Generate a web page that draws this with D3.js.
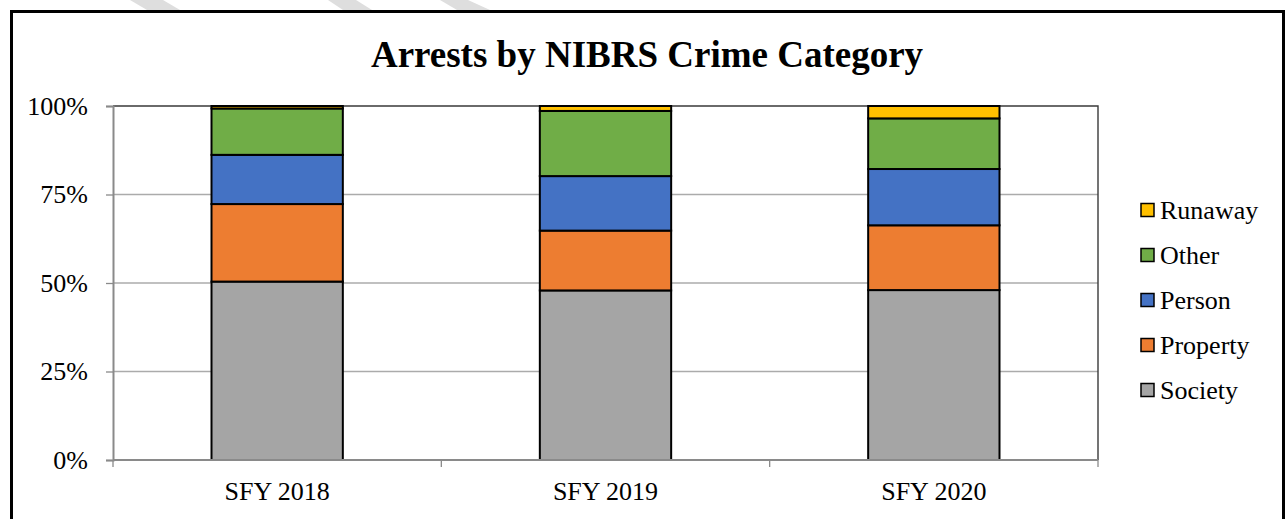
<!DOCTYPE html>
<html>
<head>
<meta charset="utf-8">
<script src="https://cdn.jsdelivr.net/npm/d3@7"></script>
<style>
  body { margin: 0; background: #fff; }
  text { font-family: "Liberation Serif", "Times New Roman", serif; fill: #000; }
</style>
</head>
<body>
<script>
// chart data (percent of arrests)
const years = ["SFY 2018", "SFY 2019", "SFY 2020"];
const series = ["Society", "Property", "Person", "Other", "Runaway"];
const society = [50.4, 47.9, 48.0];
const property = [21.9, 16.9, 18.3];
const person = [13.9, 15.4, 15.9];
const other = [13.1, 18.4, 14.3];
const runaway = [0.7, 1.4, 3.5];
const yTicks = [0, 25, 50, 75, 100];

const colors = {
    Society: "#a5a5a5",
    Property: "#ed7d31",
    Person: "#4472c4",
    Other: "#70ad47",
    Runaway: "#ffc000"
};

const W = 1288, H = 519;
const plotL = 113, plotR = 1098, plotT = 106, plotB = 460;

const svg = d3.select("body")
    .append("svg")
    .attr("width", W)
    .attr("height", H);

// faint diagonal stripes peeking over the top edge
const stripes = [[130, 163, 180, 147], [328, 356, 372, 343], [440, 468, 490, 457]];
svg.selectAll(".stripe")
    .data(stripes)
    .enter()
    .append("polygon")
    .attr("points", (s) => `${s[0]},0 ${s[1]},0 ${s[2]},10 ${s[3]},10`)
    .attr("fill", "#dedede");

// outer frame
svg.append("rect")
    .attr("x", 11.5).attr("y", 11.5)
    .attr("width", 1272).attr("height", 530)
    .attr("fill", "#fff")
    .attr("stroke", "#000")
    .attr("stroke-width", 3);

// build table for stacking
const table = years.map((y, i) => ({
    year: y,
    Society: society[i],
    Property: property[i],
    Person: person[i],
    Other: other[i],
    Runaway: runaway[i]
}));
const stacked = d3.stack().keys(series)(table);

const x = d3.scaleBand()
    .domain(years)
    .range([plotL, plotR])
    .paddingInner(0.6)
    .paddingOuter(0.3);

const y = d3.scaleLinear()
    .domain([0, 100])
    .range([plotB, plotT]);

// gridlines
svg.selectAll(".grid")
    .data(yTicks.filter((t) => t > 0 && t < 100))
    .enter()
    .append("line")
    .attr("x1", plotL).attr("x2", plotR)
    .attr("y1", (d) => y(d)).attr("y2", (d) => y(d))
    .attr("stroke", "#ababab")
    .attr("stroke-width", 1.3);

// plot area top and right edges
svg.append("path")
    .attr("d", `M${plotL},${y(100)}H${plotR}V${plotB}`)
    .attr("fill", "none")
    .attr("stroke", "#3a3a3a")
    .attr("stroke-width", 1.4);

// bars
const layer = svg.selectAll(".layer")
    .data(stacked)
    .enter()
    .append("g")
    .attr("fill", (d) => colors[d.key]);

layer.selectAll("rect")
    .data((d) => d)
    .enter()
    .append("rect")
    .attr("x", (d) => x(d.data.year))
    .attr("y", (d) => y(d[1]))
    .attr("width", x.bandwidth())
    .attr("height", (d) => y(d[0]) - y(d[1]))
    .attr("stroke", "#000")
    .attr("stroke-width", 2);

// y axis
const yAxis = svg.append("g")
    .attr("transform", `translate(${plotL},0)`)
    .call(d3.axisLeft(y).tickValues(yTicks).tickFormat((d) => d + "%").tickSize(7).tickPadding(18));
yAxis.select(".domain").attr("stroke", "#8a8a8a").attr("stroke-width", 2);
yAxis.selectAll(".tick line").attr("stroke", "#8a8a8a").attr("stroke-width", 1.3);
yAxis.selectAll(".tick text")
    .style("font-family", '"Liberation Serif", "Times New Roman", serif')
    .style("font-size", "26px")
    .attr("fill", "#000");

// x axis line and boundary ticks
svg.append("line")
    .attr("x1", plotL).attr("x2", plotR)
    .attr("y1", plotB).attr("y2", plotB)
    .attr("stroke", "#8a8a8a")
    .attr("stroke-width", 2);

const bounds = d3.range(years.length + 1).map((i) => x.range()[0] + i * x.step());
svg.selectAll(".xtick")
    .data(bounds)
    .enter()
    .append("line")
    .attr("x1", (d) => d).attr("x2", (d) => d)
    .attr("y1", plotB).attr("y2", plotB + 7)
    .attr("stroke", "#8a8a8a")
    .attr("stroke-width", 1.3);

svg.selectAll(".xlabel")
    .data(years)
    .enter()
    .append("text")
    .attr("x", (d) => x(d) + x.bandwidth() / 2)
    .attr("y", 500)
    .attr("text-anchor", "middle")
    .style("font-size", "26px")
    .text((d) => d);

// title
svg.append("text")
    .attr("x", 647)
    .attr("y", 67)
    .attr("text-anchor", "middle")
    .style("font-size", "37px")
    .style("font-weight", "bold")
    .text("Arrests by NIBRS Crime Category");

// legend (top to bottom: Runaway ... Society)
const legend = svg.selectAll(".legend")
    .data(series.slice().reverse())
    .enter()
    .append("g")
    .attr("transform", (d, i) => `translate(1141,${210 + i * 45})`);

legend.append("rect")
    .attr("x", 0).attr("y", -6.5)
    .attr("width", 13).attr("height", 13)
    .attr("fill", (d) => colors[d])
    .attr("stroke", "#000")
    .attr("stroke-width", 1.5);

legend.append("text")
    .attr("x", 19)
    .attr("y", 9)
    .style("font-size", "26px")
    .text((d) => d);
</script>
</body>
</html>
